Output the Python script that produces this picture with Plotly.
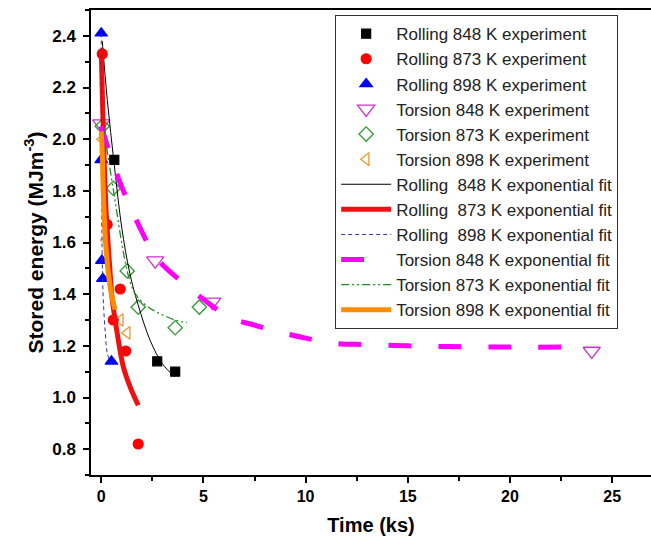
import plotly.graph_objects as go

# ---------------- data ----------------
r848_x = [0.64, 2.74, 3.62]
r848_y = [1.92, 1.14, 1.10]
r873_x = [0.05, 0.29, 0.59, 0.93, 1.20, 1.81]
r873_y = [2.33, 1.67, 1.30, 1.42, 1.18, 0.82]
r898_x = [0.0, 0.0, 0.03, 0.08, 0.50]
r898_y = [2.41, 1.92, 1.53, 1.46, 1.14]
t848_x = [0.0, 2.64, 5.43, 24.0]
t848_y = [2.06, 1.53, 1.37, 1.18]
t873_x = [0.05, 0.59, 1.27, 1.81, 3.62, 4.80]
t873_y = [2.05, 1.81, 1.49, 1.35, 1.27, 1.35]
t898_x = [0.05, 0.24, 0.93, 1.27]
t898_y = [2.00, 1.61, 1.30, 1.25]

fr848_x = [0.05, 0.3, 0.64, 1.0, 1.4, 1.8, 2.4, 3.0, 3.6]
fr848_y = [2.38, 2.15, 1.90, 1.66, 1.48, 1.36, 1.22, 1.13, 1.08]
fr873_x = [0.0, 0.08, 0.15, 0.22, 0.30, 0.42, 0.54, 0.78, 1.08, 1.42, 1.81]
fr873_y = [2.35, 2.10, 1.90, 1.75, 1.64, 1.50, 1.38, 1.25, 1.12, 1.04, 0.97]
fr898_x = [0.0, 0.02, 0.05, 0.10, 0.20, 0.30, 0.50]
fr898_y = [2.41, 1.90, 1.53, 1.38, 1.25, 1.17, 1.13]
ft848_x = [0.0, 0.4, 0.83, 1.3, 2.0, 2.7, 3.9, 5.0, 6.3, 7.5, 8.9, 10.0, 11.4, 13.0, 15.0, 17.0, 20.0, 22.6]
ft848_y = [2.05, 1.95, 1.85, 1.76, 1.64, 1.54, 1.45, 1.38, 1.31, 1.28, 1.25, 1.23, 1.21, 1.205, 1.20, 1.197, 1.195, 1.195]
ft873_x = [0.1, 0.4, 0.7, 1.0, 1.3, 1.6, 2.0, 2.5, 3.0, 3.6, 4.2]
ft873_y = [2.05, 1.90, 1.75, 1.60, 1.48, 1.41, 1.37, 1.34, 1.32, 1.30, 1.29]
ft898_x = [0.0, 0.05, 0.10, 0.20, 0.35, 0.50, 0.68]
ft898_y = [2.03, 1.95, 1.80, 1.62, 1.48, 1.40, 1.34]

x_ticks = [0, 5, 10, 15, 20, 25]

# ---------------- figure ----------------
fig = go.Figure()

def mk(x, y, name, symbol, color, size, line_color=None, lw=1.2):
    fig.add_trace(go.Scatter(
        x=x, y=y, mode="markers", name=name,
        marker=dict(symbol=symbol, size=size, color=color,
                    line=dict(color=line_color or color, width=lw))))

def ln(x, y, name, color, width, dash="solid"):
    fig.add_trace(go.Scatter(
        x=x, y=y, mode="lines", name=name, line_shape="spline",
        line=dict(color=color, width=width, dash=dash)))

mk(r848_x, r848_y, "Rolling 848 K experiment", "square", "black", 9)
mk(r873_x, r873_y, "Rolling 873 K experiment", "circle", "#ff0000", 10)
mk(r898_x, r898_y, "Rolling 898 K experiment", "triangle-up", "#0000ff", 11)
mk(t848_x, t848_y, "Torsion 848 K experiment", "triangle-down-open", "#cc33cc", 15, lw=1.3)
mk(t873_x, t873_y, "Torsion 873 K experiment", "diamond-open", "#339933", 11, lw=1.3)
mk(t898_x, t898_y, "Torsion 898 K experiment", "triangle-left-open", "#e89a30", 11, lw=1.3)

ln(fr848_x, fr848_y, "Rolling\u00a0 848 K exponential fit", "black", 1)
ln(fr873_x, fr873_y, "Rolling\u00a0 873 K exponential fit", "#ee1111", 5)
ln(fr898_x, fr898_y, "Rolling\u00a0 898 K exponential fit", "#3333aa", 1, "4px,3px")
ln(ft848_x, ft848_y, "Torsion 848 K exponential fit", "#ff00ff", 5, "23px,27px")
ln(ft873_x, ft873_y, "Torsion 873 K exponential fit", "#228b22", 1.3, "8px,3px,2px,3px,2px,3px")
ln(ft898_x, ft898_y, "Torsion 898 K exponential fit", "#ff8c00", 5)

fam = "Liberation Sans, Arial"
fig.update_layout(
    width=651, height=552,
    margin=dict(l=91, r=0, t=10, b=77),
    paper_bgcolor="white", plot_bgcolor="white",
    font=dict(family=fam, color="black"),
    showlegend=True,
    legend=dict(
        x=0.436, y=0.989, xanchor="left", yanchor="top",
        bgcolor="white", bordercolor="#333333", borderwidth=1,
        font=dict(family=fam, size=17, color="#222222"),
        itemwidth=50, tracegroupgap=0,
    ),
    xaxis=dict(
        range=[-0.5, 26.9], showgrid=False, zeroline=False,
        showline=True, linecolor="black", linewidth=1.5, mirror=True,
        ticks="outside", ticklen=6, tickwidth=1.5, tickcolor="black",
        tickvals=x_ticks, ticktext=[str(v) for v in x_ticks],
        tickfont=dict(family=fam, size=16, color="black", weight="bold"),
        minor=dict(dtick=2.5, tick0=0, ticks="outside", ticklen=4, tickwidth=1.5, tickcolor="black"),
        title=dict(text="<b>Time (ks)</b>", font=dict(family=fam, size=20, color="black"), standoff=14),
    ),
    yaxis=dict(
        range=[0.7, 2.5], showgrid=False, zeroline=False,
        showline=True, linecolor="black", linewidth=1.5, mirror=False,
        ticks="outside", ticklen=6, tickwidth=1.5, tickcolor="black",
        dtick=0.2, tick0=0, tickformat=".1f", ticklabelstandoff=4,
        tickfont=dict(family=fam, size=17, color="black", weight="bold"),
        minor=dict(dtick=0.1, tick0=0, ticks="outside", ticklen=4, tickwidth=1.5, tickcolor="black"),
        title=dict(text="<b>Stored energy (MJm<sup>-3</sup>)</b>", font=dict(family=fam, size=21, color="black"), standoff=3),
    ),
)

fig.write_html("out.html")
